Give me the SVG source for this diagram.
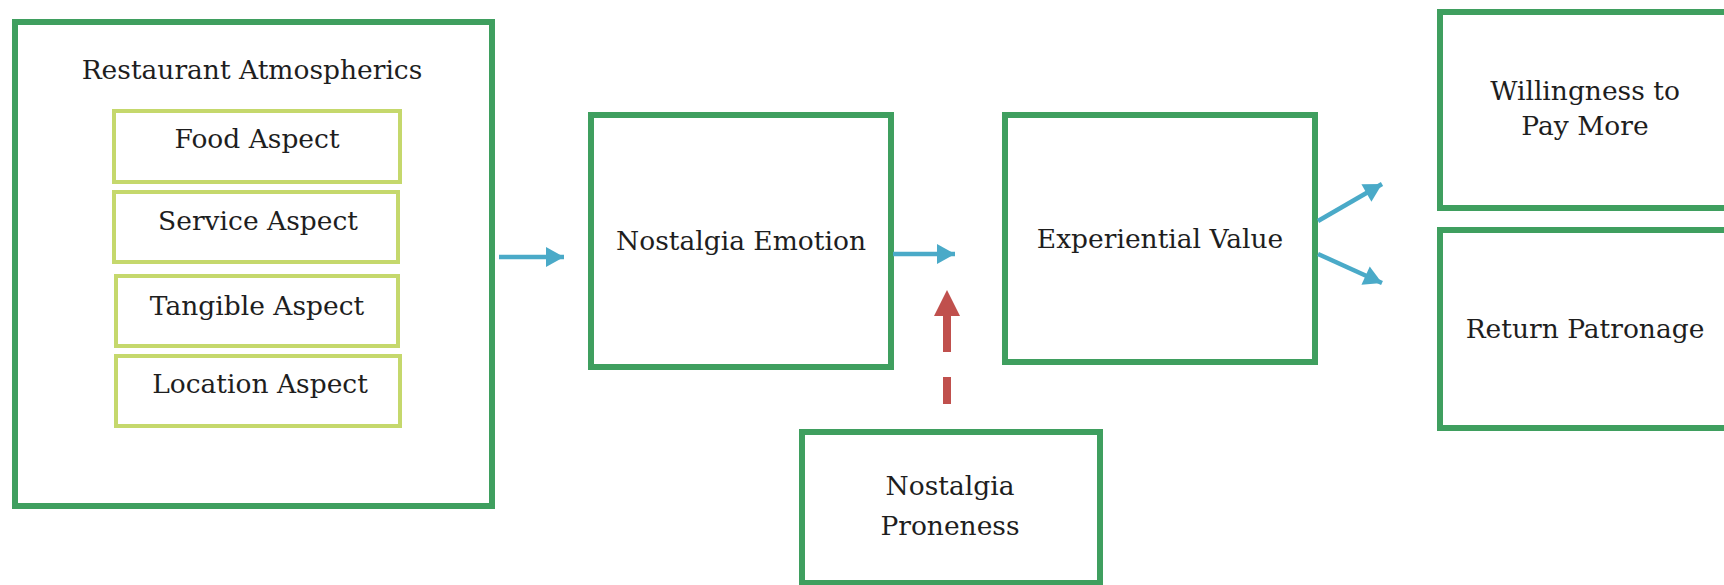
<svg xmlns="http://www.w3.org/2000/svg" width="1724" height="585" viewBox="0 0 1724 585">
<style>
.box{fill:#fff;stroke:#3f9f5f;stroke-width:6}
.sub{fill:#fff;stroke:#c5d86c;stroke-width:4}
.t{font-family:"DejaVu Serif","Liberation Serif",serif;font-size:26.5px;fill:#1e1e1e;text-anchor:middle}
.blue{stroke:#4aaac8;stroke-width:4.5;fill:none}
.red{stroke:#c0504d;stroke-width:8;fill:none}
</style>
<defs>
<marker id="ab" markerUnits="userSpaceOnUse" viewBox="0 0 20 22" markerWidth="20" markerHeight="22" refX="19" refY="11" orient="auto" overflow="visible">
<path d="M1,1 L19,11 L1,21 Z" fill="#4aaac8"/>
</marker>
</defs>
<rect width="1724" height="585" fill="#fff"/>
<g id="restaurant-atmospherics">
<rect class="box" x="15" y="22" width="477" height="484"/>
<text class="t" x="252" y="79">Restaurant Atmospherics</text>
</g>
<g id="food-aspect">
<rect class="sub" x="114" y="111" width="286" height="71"/>
<text class="t" x="257" y="148">Food Aspect</text>
</g>
<g id="service-aspect">
<rect class="sub" x="114" y="192" width="284" height="70"/>
<text class="t" x="258" y="230">Service Aspect</text>
</g>
<g id="tangible-aspect">
<rect class="sub" x="116" y="276" width="282" height="70"/>
<text class="t" x="257" y="315">Tangible Aspect</text>
</g>
<g id="location-aspect">
<rect class="sub" x="116" y="356" width="284" height="70"/>
<text class="t" x="260" y="393">Location Aspect</text>
</g>
<g id="nostalgia-emotion">
<rect class="box" x="591" y="115" width="300" height="252"/>
<text class="t" x="741" y="250">Nostalgia Emotion</text>
</g>
<g id="experiential-value">
<rect class="box" x="1005" y="115" width="310" height="247"/>
<text class="t" x="1160" y="248">Experiential Value</text>
</g>
<g id="nostalgia-proneness">
<rect class="box" x="802" y="432" width="298" height="151"/>
<text class="t" x="950" y="495">Nostalgia</text>
<text class="t" x="950" y="535">Proneness</text>
</g>
<g id="willingness">
<rect class="box" x="1440" y="12" width="290" height="196"/>
<text class="t" x="1585" y="100">Willingness to</text>
<text class="t" x="1585" y="135">Pay More</text>
</g>
<g id="return-patronage">
<rect class="box" x="1440" y="230" width="290" height="198"/>
<text class="t" x="1585" y="338">Return Patronage</text>
</g>
<g id="connectors">
<line class="blue" x1="499" y1="257" x2="564" y2="257" marker-end="url(#ab)"/>
<line class="blue" x1="893" y1="254" x2="955" y2="254" marker-end="url(#ab)"/>
<line class="blue" x1="1318" y1="221" x2="1382" y2="184" marker-end="url(#ab)"/>
<line class="blue" x1="1318" y1="254" x2="1382" y2="283" marker-end="url(#ab)"/>
<line class="red" x1="947" y1="404" x2="947" y2="377"/>
<line class="red" x1="947" y1="352" x2="947" y2="313"/>
<path d="M947,290 L960,316 L934,316 Z" fill="#c0504d"/>
</g>
</svg>
